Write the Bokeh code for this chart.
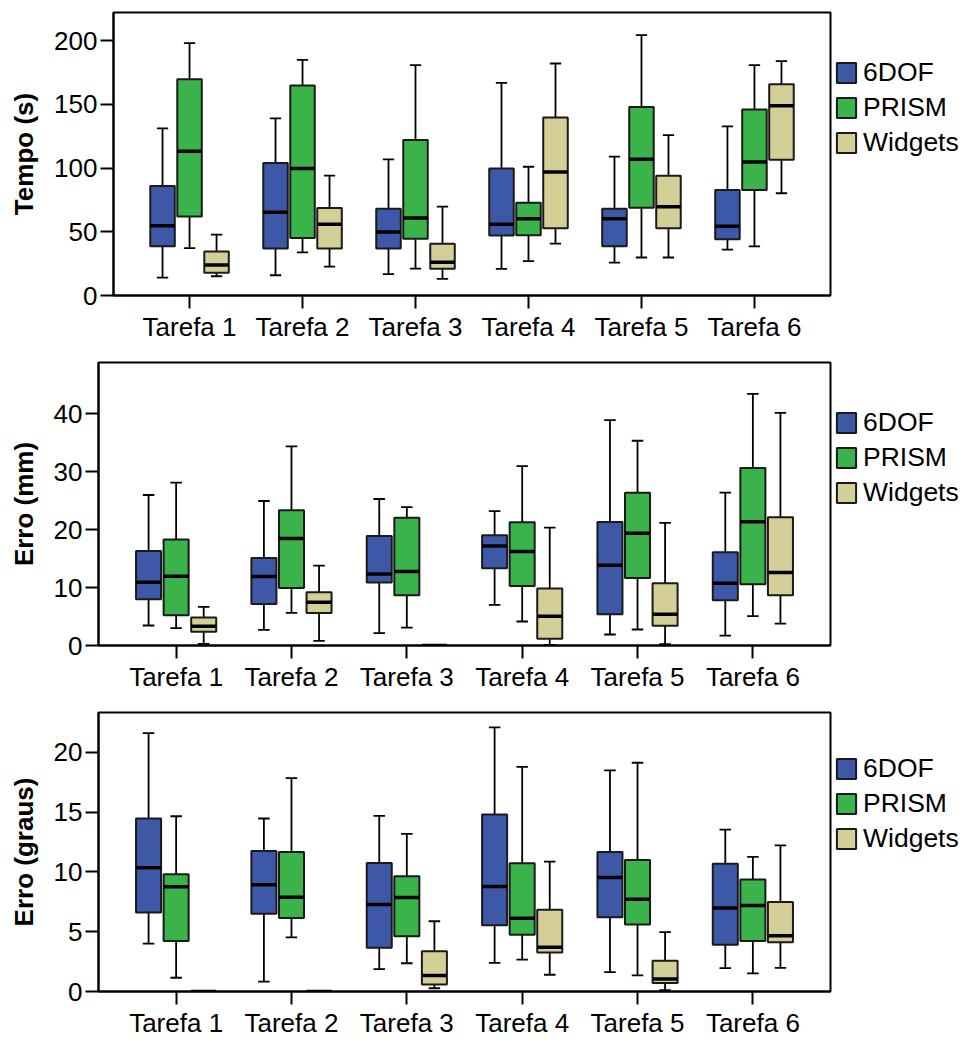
import numpy as np
from bokeh.plotting import figure
from bokeh.models import Range1d, FixedTicker, Legend, LegendItem
from bokeh.layouts import row
from bokeh.embed import file_html
from bokeh.resources import INLINE

TASKS = ["Tarefa 1", "Tarefa 2", "Tarefa 3", "Tarefa 4", "Tarefa 5", "Tarefa 6"]
SERIES = ["6DOF", "PRISM", "Widgets"]
COLORS = ["#3E58A8", "#39B34A", "#D4CF97"]

# ---- Tempo (s) ----
tempo_6dof = dict(lo=[14.1, 15.9, 16.7, 20.9, 25.8, 36.0], q1=[38.6, 36.8, 36.8, 47.0, 38.6, 44.1],
                  med=[54.8, 65.3, 49.9, 55.9, 60.3, 54.3], q3=[85.9, 103.9, 68.1, 99.7, 68.1, 82.8],
                  hi=[131.1, 138.9, 106.8, 166.8, 108.9, 132.6])
tempo_prism = dict(lo=[37.1, 33.9, 21.1, 26.9, 29.8, 38.6], q1=[61.9, 45.2, 44.6, 47.3, 68.9, 82.8],
                   med=[113.1, 99.7, 60.8, 60.3, 106.8, 104.7], q3=[169.7, 164.8, 121.9, 72.8, 147.8, 146.0],
                   hi=[197.9, 184.9, 180.7, 101.0, 204.2, 180.7])
tempo_widgets = dict(lo=[15.1, 22.7, 13.1, 40.7, 29.8, 80.2], q1=[17.8, 36.8, 20.9, 52.7, 52.7, 106.5],
                     med=[24.0, 55.9, 26.1, 96.9, 69.7, 148.8], q3=[34.5, 68.7, 40.5, 139.7, 94.0, 165.8],
                     hi=[47.8, 94.0, 69.7, 182.0, 125.8, 183.8])

# ---- Erro (mm) ----
mm_6dof = dict(lo=[3.45, 2.7, 2.13, 7.01, 1.9, 1.72], q1=[7.99, 7.18, 10.86, 13.33, 5.4, 7.82],
               med=[10.92, 11.9, 12.36, 17.18, 13.85, 10.75], q3=[16.32, 15.11, 18.9, 19.02, 21.32, 16.09],
               hi=[25.98, 24.94, 25.29, 23.2, 38.9, 26.38])
mm_prism = dict(lo=[2.99, 5.63, 3.1, 4.14, 2.76, 5.06], q1=[5.23, 9.94, 8.68, 10.29, 11.67, 10.57],
                med=[11.95, 18.45, 12.76, 16.21, 19.37, 21.38], q3=[18.28, 23.33, 22.07, 21.26, 26.38, 30.63],
                hi=[28.1, 34.37, 23.9, 30.98, 35.34, 43.45])
mm_widgets = dict(lo=[0.29, 0.8, 0.0, 0.1, 0.23, 3.79], q1=[2.36, 5.63, 0.0, 1.15, 3.39, 8.68],
                  med=[3.33, 7.47, 0.0, 5.06, 5.4, 12.59], q3=[4.83, 9.2, 0.0, 9.83, 10.75, 22.13],
                  hi=[6.67, 13.79, 0.0, 20.34, 21.15, 40.17])

# ---- Erro (graus) ----
deg_6dof = dict(lo=[4.0, 0.82, 1.87, 2.39, 1.62, 1.95], q1=[6.61, 6.5, 3.65, 5.54, 6.2, 3.9],
                med=[10.34, 8.92, 7.27, 8.78, 9.52, 6.97], q3=[14.46, 11.74, 10.75, 14.79, 11.66, 10.67],
                hi=[21.59, 14.46, 14.68, 22.08, 18.49, 13.53])
deg_prism = dict(lo=[1.15, 4.53, 2.36, 2.66, 1.34, 1.51], q1=[4.22, 6.15, 4.61, 4.75, 5.6, 4.22],
                 med=[8.75, 7.87, 7.85, 6.12, 7.71, 7.19], q3=[9.79, 11.66, 9.63, 10.73, 11.0, 9.36],
                 hi=[14.65, 17.83, 13.17, 18.77, 19.12, 11.25])
deg_widgets = dict(lo=[0.0, 0.0, 0.27, 1.4, 0.11, 1.98], q1=[0.0, 0.0, 0.58, 3.26, 0.71, 4.12],
                   med=[0.0, 0.0, 1.34, 3.7, 1.04, 4.66], q3=[0.0, 0.0, 3.37, 6.83, 2.58, 7.49],
                   hi=[0.0, 0.0, 5.87, 10.86, 4.97, 12.21])

FONT = "Liberation Sans"
BOX_W = 0.217
OFFSET = 0.239
CAP_W = 0.1
PLOT_W = 832
LEG_W = 132
RIGHT_BORDER = 2
TOP_BORDER = 12
LEG_ITEM_H = 30
LEG_SPACING = 4


def make_panel(ylabel, ymax, yticks, datasets, left_border, height, bottom_border):
    p = figure(width=PLOT_W, height=height, x_range=Range1d(0.327, 6.673), y_range=Range1d(0, ymax),
               output_backend="svg", toolbar_location=None,
               min_border_left=left_border, min_border_right=RIGHT_BORDER,
               min_border_top=TOP_BORDER, min_border_bottom=bottom_border)
    p.xgrid.visible = False
    p.ygrid.visible = False
    p.outline_line_color = "black"
    p.outline_line_width = 2
    p.background_fill_color = "white"
    p.border_fill_color = "white"

    # legend-only companion figure to the right of the frame (its renderers are hidden,
    # they only provide the legend swatches)
    q = figure(width=LEG_W, height=height, x_range=Range1d(0, 1), y_range=Range1d(0, 1),
               output_backend="svg", toolbar_location=None,
               x_axis_location=None, y_axis_location=None,
               min_border_left=0, min_border_right=0,
               min_border_top=TOP_BORDER, min_border_bottom=bottom_border)
    q.xgrid.visible = False
    q.ygrid.visible = False
    q.outline_line_color = None
    q.background_fill_color = "white"
    q.border_fill_color = "white"

    base = np.arange(1, len(TASKS) + 1)
    items = []
    for k, (name, color, d) in enumerate(zip(SERIES, COLORS, datasets)):
        xs = base + (k - 1) * OFFSET
        lo = np.array(d["lo"]); q1 = np.array(d["q1"]); med = np.array(d["med"])
        q3 = np.array(d["q3"]); hi = np.array(d["hi"])
        p.segment(x0=xs, x1=xs, y0=lo, y1=q1, line_color="black", line_width=1.8)
        p.segment(x0=xs, x1=xs, y0=q3, y1=hi, line_color="black", line_width=1.8)
        p.segment(x0=xs - CAP_W / 2, x1=xs + CAP_W / 2, y0=hi, y1=hi, line_color="black", line_width=1.8)
        p.segment(x0=xs - CAP_W / 2, x1=xs + CAP_W / 2, y0=lo, y1=lo, line_color="black", line_width=1.8)
        p.vbar(x=xs, width=BOX_W, top=q3, bottom=q1, fill_color=color,
               line_color="#1a1a1a", line_width=2)
        p.segment(x0=xs - BOX_W / 2, x1=xs + BOX_W / 2, y0=med, y1=med, line_color="black", line_width=3.5)
        r = q.vbar(x=xs, width=BOX_W, top=q3, bottom=q1, fill_color=color,
                   line_color="#1a1a1a", line_width=2)
        r.visible = False
        items.append(LegendItem(label=name, renderers=[r]))

    frame_h = height - TOP_BORDER - bottom_border
    leg_h = len(SERIES) * LEG_ITEM_H + (len(SERIES) - 1) * LEG_SPACING
    legend = Legend(items=items, location=(2, frame_h - 48 - leg_h), margin=0, padding=0,
                    spacing=LEG_SPACING, glyph_width=24, glyph_height=25, label_height=LEG_ITEM_H,
                    label_standoff=5, label_text_font=FONT, label_text_font_size="26.5px",
                    label_text_color="black", border_line_color=None, background_fill_alpha=0,
                    click_policy="none")
    q.add_layout(legend, "center")

    p.xaxis.ticker = FixedTicker(ticks=list(base))
    p.xaxis.major_label_overrides = {int(i): t for i, t in zip(base, TASKS)}
    p.yaxis.ticker = FixedTicker(ticks=yticks)
    for ax in (p.xaxis, p.yaxis):
        ax.major_tick_in = 0
        ax.major_tick_out = 13
        ax.major_tick_line_color = "black"
        ax.major_tick_line_width = 2
        ax.minor_tick_line_color = None
        ax.axis_line_color = "black"
        ax.axis_line_width = 2
        ax.major_label_text_font = FONT
        ax.major_label_text_font_size = "26px"
        ax.major_label_text_color = "black"
        ax.major_label_standoff = 3
    p.yaxis.axis_label = ylabel
    p.yaxis.axis_label_text_font = FONT
    p.yaxis.axis_label_text_font_size = "26px"
    p.yaxis.axis_label_text_font_style = "bold"
    p.yaxis.axis_label_text_color = "black"
    p.yaxis.axis_label_standoff = 12
    return row(p, q, spacing=0)


r1 = make_panel("Tempo (s)", 222, [0, 50, 100, 150, 200],
                [tempo_6dof, tempo_prism, tempo_widgets], 113, 350, 55)
r2 = make_panel("Erro (mm)", 48.85, [0, 10, 20, 30, 40],
                [mm_6dof, mm_prism, mm_widgets], 98, 350, 55)
r3 = make_panel("Erro (graus)", 23.32, [0, 5, 10, 15, 20],
                [deg_6dof, deg_prism, deg_widgets], 98, 340, 45)

open("out.html", "w").write(file_html([r1, r2, r3], INLINE))
